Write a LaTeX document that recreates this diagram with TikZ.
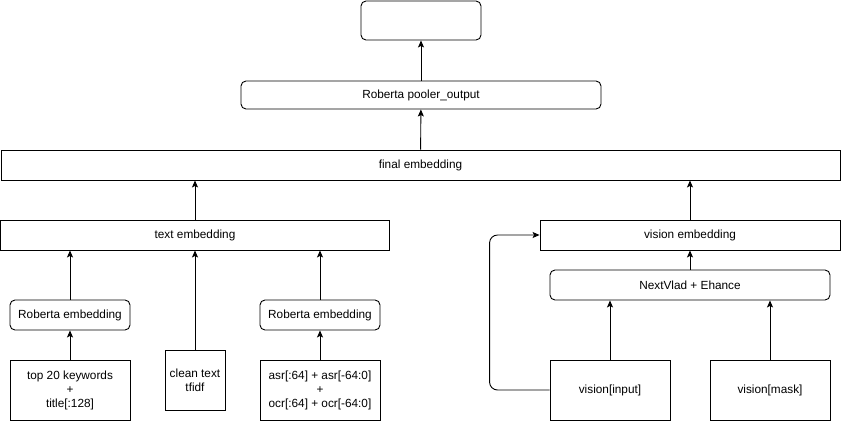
\documentclass[tikz,border=0pt]{standalone}
\usepackage{fontspec}
\setmainfont{Liberation Sans}
\usetikzlibrary{arrows.meta}
\begin{document}
\begin{tikzpicture}[x=1pt,y=-1pt,
	box/.style={draw,line width=0.9pt,inner sep=2pt,align=center,font=\fontsize{11.8}{14}\selectfont},
	rbox/.style={box,rounded corners=5pt},
	arr/.style={line width=0.9pt,-{Stealth[length=7pt,width=6pt,inset=1.5pt]}}]
	\useasboundingbox (0,0) rectangle (841,421);
	% top of the stack
	\node[rbox,minimum width=120,minimum height=39] (out) at (421,20.5) {};
	\node[rbox,minimum width=360,minimum height=28] (pool) at (421,95) {Roberta pooler\_output};
	\node[box,minimum width=839,minimum height=30] (fin) at (420.5,165) {final embedding};
	% text branch
	\node[box,minimum width=389,minimum height=30] (temb) at (195,235) {text embedding};
	\node[rbox,minimum width=120,minimum height=30] (remba) at (70,315) {Roberta embedding};
	\node[rbox,minimum width=120,minimum height=30] (rembb) at (320,315) {Roberta embedding};
	\node[box,minimum width=120,minimum height=60] (kw) at (70,390) {top 20 keywords\\+\\title[:128]};
	\node[box,minimum width=60,minimum height=60] (clean) at (195,380) {clean text\\tfidf};
	\node[box,minimum width=120,minimum height=60] (asr) at (320,390) {asr[:64] + asr[-64:0]\\+\\ocr[:64] + ocr[-64:0]};
	% vision branch
	\node[box,minimum width=300,minimum height=30] (vemb) at (690,235) {vision embedding};
	\node[rbox,minimum width=280,minimum height=30] (vlad) at (690,285) {NextVlad + Ehance};
	\node[box,minimum width=120,minimum height=60] (vin) at (610,390) {vision[input]};
	\node[box,minimum width=120,minimum height=60] (vmask) at (770,390) {vision[mask]};
	% connectors
	\draw[arr] (pool) -- (out);
	\draw[arr] (fin) -- (pool);
	\draw[arr] (temb) -- (temb.north |- fin.south);
	\draw[arr] (vemb) -- (vemb.north |- fin.south);
	\draw[arr] (remba) -- (remba.north |- temb.south);
	\draw[arr] (clean) -- (clean.north |- temb.south);
	\draw[arr] (rembb) -- (rembb.north |- temb.south);
	\draw[arr] (kw) -- (remba);
	\draw[arr] (asr) -- (rembb);
	\draw[arr] (vlad) -- (vemb);
	\draw[arr] (vin) -- (vin.north |- vlad.south);
	\draw[arr] (vmask) -- (vmask.north |- vlad.south);
	\draw[arr,rounded corners=8pt] (vin.west) -- ++(-60,0) |- (vemb.west);
\end{tikzpicture}
\end{document}
